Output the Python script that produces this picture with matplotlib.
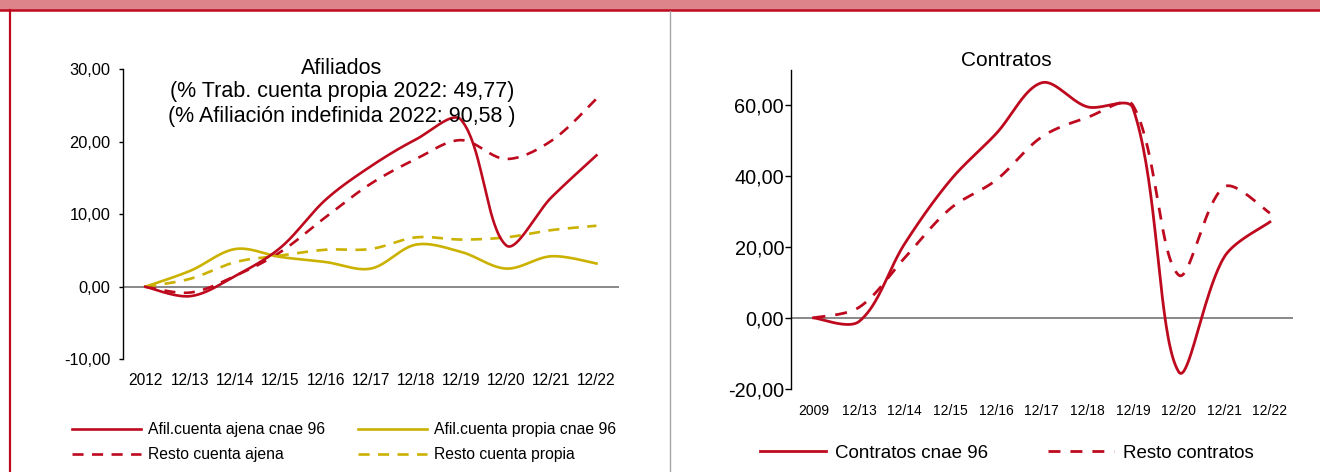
import numpy as np
import matplotlib
matplotlib.use('Agg')
import matplotlib.pyplot as plt
from matplotlib.ticker import FuncFormatter, MultipleLocator
from matplotlib.patches import Rectangle
from matplotlib.lines import Line2D

plt.rcParams['font.family'] = ['Liberation Sans', 'DejaVu Sans']

# --- data ---
cats_afil = ['2012', '12/13', '12/14', '12/15', '12/16', '12/17', '12/18', '12/19', '12/20', '12/21', '12/22']
afil_ajena_96 = [0.0, -1.3, 1.5, 5.4, 12.0, 16.6, 20.3, 23.0, 5.7, 12.3, 18.1]
resto_ajena = [0.0, -0.8, 1.5, 4.8, 9.6, 14.2, 17.6, 20.2, 17.6, 20.1, 25.9]
afil_propia_96 = [0.0, 2.2, 5.2, 4.1, 3.4, 2.5, 5.8, 4.8, 2.5, 4.2, 3.2]
resto_propia = [0.0, 1.1, 3.4, 4.3, 5.1, 5.2, 6.8, 6.5, 6.8, 7.8, 8.4]

cats_contr = ['2009', '12/13', '12/14', '12/15', '12/16', '12/17', '12/18', '12/19', '12/20', '12/21', '12/22']
contratos_96 = [0.0, -1.0, 21.0, 38.9, 52.0, 66.4, 59.6, 59.2, -15.2, 17.2, 27.1]
resto_contratos = [0.0, 3.0, 17.0, 30.9, 38.9, 51.1, 56.6, 60.0, 12.1, 37.0, 29.6]

RED = '#BE0A1E'
YELLOW = '#CBB100'
PINK = '#DC848A'


def smooth(vals, xpx, ypx, n=40):
    # Excel-like smoothed line: bezier with control arms weighted by segment length (in pixels)
    P = np.column_stack([np.arange(len(vals), dtype=float), np.asarray(vals, dtype=float)])
    S = P * [xpx, ypx]
    m = len(P)
    cin = P.copy()
    cout = P.copy()
    for i in range(m):
        a = max(i - 1, 0)
        b = min(i + 1, m - 1)
        d = P[b] - P[a]
        lin = np.hypot(*(S[i] - S[a]))
        lout = np.hypot(*(S[b] - S[i]))
        tot = lin + lout
        if tot == 0:
            continue
        cout[i] = P[i] + d * (2 / 3) * 0.5 * lout / tot if 0 < i < m - 1 else P[i] + d * (1 / 6)
        cin[i] = P[i] - d * (2 / 3) * 0.5 * lin / tot if 0 < i < m - 1 else P[i] - d * (1 / 6)
    t = np.linspace(0, 1, n)[:, None]
    pts = []
    for i in range(m - 1):
        a, b, c, d = P[i], cout[i], cin[i + 1], P[i + 1]
        seg = (1 - t) ** 3 * a + 3 * (1 - t) ** 2 * t * b + 3 * (1 - t) * t ** 2 * c + t ** 3 * d
        pts.append(seg if i == m - 2 else seg[:-1])
    pts = np.vstack(pts)
    return pts[:, 0], pts[:, 1]


fmt = FuncFormatter(lambda v, p: f'{v:.2f}'.replace('.', ','))

fig = plt.figure(figsize=(13.2, 4.72), dpi=100)
W, H = 1320.0, 472.0

# header band and frame lines
fig.patches.append(Rectangle((0, 1 - 9 / H), 1, 9 / H, transform=fig.transFigure, color=PINK, zorder=0))
fig.add_artist(Line2D([0, 1], [1 - 10 / H, 1 - 10 / H], color=RED, lw=1.8, transform=fig.transFigure))
fig.add_artist(Line2D([10 / W, 10 / W], [0, 1 - 10 / H], color=RED, lw=1.6, transform=fig.transFigure))
fig.add_artist(Line2D([670 / W, 670 / W], [0, 1 - 11 / H], color='#A6A6A6', lw=1.0, transform=fig.transFigure))


def setup(ax, cats, ylo, yhi, step, ysize, xsize, ypad, xpad, ticklen):
    ax.set_xlim(-0.5, len(cats) - 0.5)
    ax.set_ylim(ylo, yhi)
    ax.yaxis.set_major_locator(MultipleLocator(step))
    ax.yaxis.set_major_formatter(fmt)
    ax.set_xticks(range(len(cats)))
    ax.set_xticklabels(cats)
    for s in ['top', 'right', 'bottom']:
        ax.spines[s].set_visible(False)
    ax.spines['left'].set_linewidth(1.0)
    ax.axhline(0, color='#7F7F7F', lw=1.3, zorder=1)
    ax.tick_params(axis='y', length=ticklen, width=1.0, labelsize=ysize, pad=ypad)
    ax.tick_params(axis='x', length=0, labelsize=xsize, pad=xpad)
    ax.patch.set_alpha(0)


# --- left panel: Afiliados ---
L_W = 619 - 122.7
L_H = 359.3 - 69
ax1 = fig.add_axes([122.7 / W, 1 - 359.3 / H, L_W / W, L_H / H])
setup(ax1, cats_afil, -10, 30, 10, 11.8, 11.2, 6.0, 10, 3)
sx1, sy1 = L_W / 11, L_H / 40
ax1.plot(*smooth(afil_ajena_96, sx1, sy1), color=RED, lw=1.9, label='Afil.cuenta ajena cnae 96', zorder=4)
ax1.plot(*smooth(resto_ajena, sx1, sy1), color=RED, lw=1.9, dashes=(4.2, 3.2), label='Resto cuenta ajena', zorder=3)
ax1.plot(*smooth(afil_propia_96, sx1, sy1), color=YELLOW, lw=1.9, label='Afil.cuenta propia cnae 96', zorder=3)
ax1.plot(*smooth(resto_propia, sx1, sy1), color=YELLOW, lw=1.9, dashes=(4.2, 3.2), label='Resto cuenta propia', zorder=2)

fig.text(342 / W, 1 - 74 / H, 'Afiliados', ha='center', va='baseline', fontsize=15.5)
fig.text(342 / W, 1 - 97.5 / H, '(% Trab. cuenta propia 2022: 49,77)', ha='center', va='baseline', fontsize=15.5)
fig.text(342 / W, 1 - 122 / H, '(% Afiliación indefinida 2022: 90,58 )', ha='center', va='baseline', fontsize=15.5)

h, l = ax1.get_legend_handles_labels()
fig.legend(h, l, ncol=2, frameon=False,
           loc='upper left', bbox_to_anchor=(72 / W, 1 - 422 / H), fontsize=11.3,
           handlelength=4.4, handletextpad=0.45, columnspacing=2.1, labelspacing=0.65,
           borderpad=0, borderaxespad=0)

# --- right panel: Contratos ---
R_W = 1292.7 - 790.7
R_H = 388.7 - 70
ax2 = fig.add_axes([790.7 / W, 1 - 388.7 / H, R_W / W, R_H / H])
setup(ax2, cats_contr, -20, 70, 20, 14.3, 10, 0.6, 11, 4.2)
ax2.set_yticks([-20, 0, 20, 40, 60])
sx2, sy2 = R_W / 11, R_H / 90
ax2.plot(*smooth(contratos_96, sx2, sy2), color=RED, lw=2.0, label='Contratos cnae 96', zorder=4)
ax2.plot(*smooth(resto_contratos, sx2, sy2), color=RED, lw=2.0, dashes=(4.3, 3.6), label='Resto contratos', zorder=3)

fig.text(1006.5 / W, 1 - 66 / H, 'Contratos', ha='center', va='baseline', fontsize=15)

fig.legend(*ax2.get_legend_handles_labels(), ncol=2, frameon=False,
           loc='center left', bbox_to_anchor=(760 / W, 1 - 453 / H), fontsize=13.5,
           handlelength=3.5, handletextpad=0.5, columnspacing=3.2,
           borderpad=0, borderaxespad=0)

fig.savefig('out.png', dpi=100)
